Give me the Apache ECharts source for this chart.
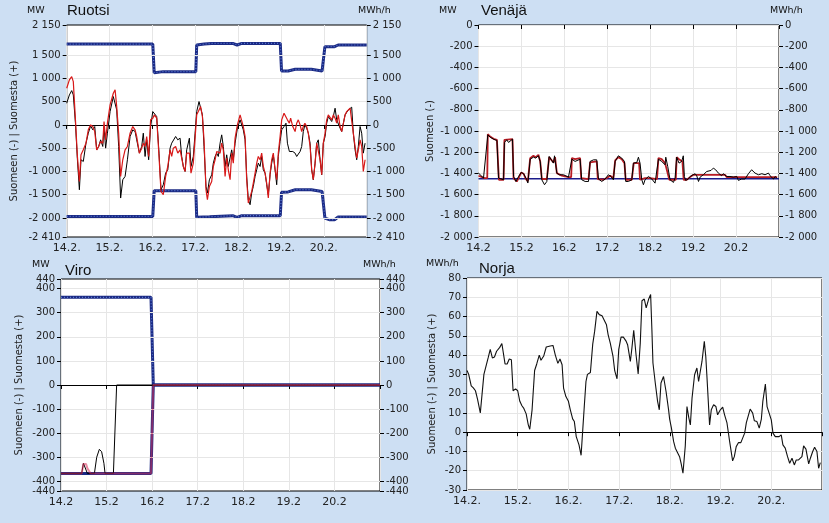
<!DOCTYPE html>
<html><head><meta charset="utf-8">
<script src="https://cdn.jsdelivr.net/npm/echarts@6/dist/echarts.min.js"></script>
<style>html,body{margin:0;padding:0;background:#cddff3}#c{width:829px;height:523px}</style>
</head><body><div id="c"></div>
<script>
// ---------- tick labels ----------
const dayLabelsDot = ['14.2.','15.2.','16.2.','17.2.','18.2.','19.2.','20.2.'];
const dayLabelsPlain = ['14.2','15.2','16.2','17.2','18.2','19.2','20.2'];
const ruotsiTicks = [2150,1500,1000,500,0,-500,-1000,-1500,-2000,-2410];
const ruotsiGrid = [1500,1000,500,-500,-1000,-1500,-2000];
const viroTicks = [400,300,200,100,0,-100,-200,-300,-400];
const viroEndTicks = [440,-440];
const viroGrid = [400,300,200,100,-100,-200,-300,-400];

// ---------- data: [hour since 14.2. 00:00, value] ----------
const ruotsiCapExport = [[0,1740],[48.2,1740],[49,1125],[54,1147],[72.3,1147],[72.8,1720],[77,1740],[81,1754],[93,1754],[95.4,1720],[98,1754],[119.6,1754],[120.3,1160],[124,1160],[128,1197],[137,1197],[143,1160],[144,1160],[144.6,1684],[150,1684],[152,1720],[168,1720]];
const ruotsiCapImport = [[0,-1968],[48.2,-1968],[49,-1414],[72.3,-1414],[72.8,-1987],[80,-1975],[81,-1952],[93,-1952],[95.4,-1987],[98,-1952],[119.6,-1952],[120.3,-1450],[124,-1440],[128,-1393],[137,-1393],[143,-1430],[144,-1430],[144.6,-2002],[147,-2038],[150,-2038],[152,-1980],[168,-1980]];
const ruotsiMeasured = [[0,467],[1.5,646],[2.8,739],[3.7,646],[4.9,38],[6,-749],[7.1,-1394],[8,-749],[9.3,-785],[10.8,-392],[12.1,-177],[13.4,-19],[14.6,-105],[15.7,-34],[16.8,-535],[17.9,-463],[19,-320],[20.2,-463],[20.9,-34],[21.8,-499],[22.8,-177],[24.3,288],[26.1,611],[27.1,575],[28,324],[29.1,-463],[30.2,-1572],[31.4,-1179],[32.7,-1107],[34,-749],[35.5,-248],[37,-105],[38.3,-141],[39.2,-320],[40.7,-606],[42,-463],[42.9,-177],[43.9,-678],[44.8,-320],[45.9,-749],[47,-34],[48.2,288],[49.1,253],[50.4,181],[51.7,-606],[52.8,-1394],[54.1,-1286],[55.4,-1036],[56.6,-964],[57.9,-499],[58.8,-392],[59.7,-356],[61,-248],[62.2,-320],[63.5,-284],[64.4,-678],[65.3,-893],[66.3,-1000],[67.2,-535],[68.7,-284],[69.6,-893],[70.9,-678],[71.9,-177],[72.8,288],[74.1,503],[75,539],[76,217],[76.9,-463],[78,-1322],[78.8,-1465],[79.9,-1179],[81.2,-1072],[82.1,-821],[83.1,-678],[84,-606],[84.9,-678],[85.9,-392],[86.8,-213],[87.7,-463],[88.7,-893],[89.6,-642],[90.5,-893],[91.5,-893],[92.4,-535],[93.3,-749],[94.3,-392],[95.6,-69],[97.1,110],[98.2,110],[98.9,-105],[99.9,-320],[100.8,-1107],[101.7,-1608],[102.7,-1715],[103.6,-1465],[104.5,-1322],[105.5,-1107],[106.4,-964],[107.3,-821],[108.3,-893],[109.2,-678],[110.1,-964],[111.1,-1036],[112,-1286],[112.9,-1501],[113.9,-1072],[114.8,-821],[115.7,-642],[116.7,-964],[117.6,-1286],[118.5,-678],[119.5,-356],[120.4,-105],[121.7,-34],[122.8,38],[123.6,-392],[124.7,-571],[125.4,-606],[126.6,-571],[127.9,-606],[128.8,-678],[129.7,-714],[130.7,-571],[131.6,-463],[132.5,-141],[133.4,2],[134.4,-69],[135.3,-177],[136.3,-392],[137.2,-964],[138.1,-1179],[139.1,-821],[140,-392],[140.9,-320],[141.9,-749],[142.8,-1072],[143.7,-392],[144.7,-248],[145.6,38],[146.5,181],[147.5,146],[148.4,74],[149.3,181],[150.3,360],[151.2,110],[152.1,146],[153.1,-69],[154,-141],[154.9,-141],[155.9,217],[156.8,253],[157.7,324],[158.7,360],[159.6,382],[160.5,-177],[161.5,-535],[162.4,-749],[163.3,-463],[164.3,-34],[165.2,-177],[166.1,-606],[167.1,-392]];
const ruotsiPlanned = [[0,790],[1.5,969],[2.8,1040],[3.7,932],[4.9,110],[6,-678],[7.1,-1215],[8,-642],[9.3,-535],[10.8,-392],[12.1,-105],[13.4,2],[14.6,-34],[15.7,-141],[16.8,-535],[17.9,-463],[19,-356],[20.2,-392],[20.9,74],[21.8,-320],[22.8,38],[24.3,432],[26.1,682],[27.1,754],[28,396],[29.1,-177],[30.2,-1107],[31.4,-749],[32.7,-535],[34,-463],[35.5,-177],[37,-34],[38.3,-105],[39.2,-248],[40.7,-606],[42,-499],[42.9,-392],[43.9,-463],[44.8,-248],[45.9,-678],[47,110],[48.2,146],[49.1,217],[50.4,146],[51.7,-678],[52.8,-1430],[54.1,-1501],[55.4,-1107],[56.6,-893],[57.9,-535],[58.8,-678],[59.7,-499],[61,-463],[62.2,-606],[63.5,-535],[64.4,-571],[65.3,-893],[66.3,-1000],[67.2,-606],[68.7,-606],[69.6,-1036],[70.9,-821],[71.9,-284],[72.8,217],[74.1,324],[75,396],[76,181],[76.9,-320],[78,-1394],[78.8,-1608],[79.9,-1322],[81.2,-1215],[82.1,-893],[83.1,-749],[84,-571],[84.9,-571],[85.9,-606],[86.8,-392],[87.7,-535],[88.7,-1107],[89.6,-714],[90.5,-964],[91.5,-1179],[92.4,-606],[93.3,-821],[94.3,-284],[95.6,2],[97.1,217],[98.2,217],[98.9,-34],[99.9,-248],[100.8,-1179],[101.7,-1680],[102.7,-1644],[103.6,-1430],[104.5,-1251],[105.5,-1036],[106.4,-821],[107.3,-678],[108.3,-749],[109.2,-606],[110.1,-893],[111.1,-1036],[112,-1251],[112.9,-1572],[113.9,-1036],[114.8,-749],[115.7,-606],[116.7,-964],[117.6,-1179],[118.5,-606],[119.5,-248],[120.4,110],[121.7,253],[122.8,288],[123.6,110],[124.7,38],[125.4,146],[126.6,-34],[127.9,-141],[128.8,38],[129.7,110],[130.7,2],[131.6,-141],[132.5,-34],[133.4,38],[134.4,-34],[135.3,-177],[136.3,-463],[137.2,-964],[138.1,-1179],[139.1,-821],[140,-392],[140.9,-356],[141.9,-749],[142.8,-1072],[143.7,-392],[144.7,-177],[145.6,110],[146.5,217],[147.5,196],[148.4,110],[149.3,217],[150.3,146],[151.2,38],[152.1,217],[153.1,-34],[154,-141],[154.9,-141],[155.9,217],[156.8,288],[157.7,324],[158.7,360],[159.6,396],[160.5,-177],[161.5,-463],[162.4,-714],[163.3,-535],[164.3,-320],[165.2,-463],[166.1,-1000],[167.1,-749]];

const venajaCap = [[0,-1450],[168,-1450]];
const venajaPlanned = [[0,-1422],[3.4,-1444],[4.9,-1444],[5.2,-1030],[6.5,-1052],[8.4,-1074],[10.3,-1083],[10.8,-1083],[11.4,-1460],[14,-1460],[14.5,-1083],[19,-1077],[19.6,-1444],[21.4,-1476],[22.4,-1444],[23.9,-1391],[25.2,-1403],[26.5,-1453],[27.6,-1476],[28.9,-1256],[30.7,-1234],[32,-1247],[33.5,-1225],[34.5,-1287],[35.4,-1453],[38.2,-1453],[39.5,-1247],[40.6,-1234],[41.9,-1297],[42.8,-1247],[43.8,-1397],[44.7,-1413],[46.6,-1422],[50.3,-1435],[51.8,-1435],[52.2,-1256],[54,-1266],[56.8,-1256],[57.4,-1444],[61.5,-1453],[62.4,-1297],[66.1,-1287],[66.7,-1453],[69.8,-1460],[71.7,-1444],[73.6,-1422],[75.4,-1444],[76.4,-1278],[78.2,-1247],[80.1,-1266],[81.6,-1303],[82.3,-1460],[82.9,-1476],[85.7,-1460],[86.4,-1460],[86.8,-1303],[89.8,-1303],[90.3,-1460],[93.1,-1444],[95.9,-1444],[96.9,-1460],[99.8,-1453],[100.6,-1256],[102.4,-1266],[104.3,-1303],[105.2,-1297],[106.7,-1460],[110.3,-1460],[110.8,-1247],[112.1,-1266],[114,-1287],[114.7,-1460],[116.4,-1460],[118.3,-1435],[120.1,-1413],[137.8,-1413],[138.8,-1435],[167,-1435]];
const venajaMeasured = [[0,-1397],[0.95,-1413],[2.8,-1444],[5.2,-1036],[6.5,-1058],[8.4,-1077],[10.3,-1090],[11.2,-1444],[12.1,-1460],[14,-1460],[14.5,-1108],[15.8,-1083],[16.8,-1108],[19,-1077],[19.6,-1429],[20.9,-1476],[22.4,-1429],[23.9,-1391],[25.2,-1403],[27,-1460],[27.6,-1491],[28.9,-1266],[30.7,-1247],[32,-1256],[33.5,-1234],[34.5,-1287],[35.4,-1460],[36.9,-1507],[38.2,-1476],[39.5,-1240],[40.6,-1256],[41.9,-1303],[42.5,-1234],[43.8,-1397],[45.1,-1413],[46.2,-1429],[47.5,-1413],[48.4,-1422],[50.3,-1435],[52.2,-1266],[54,-1287],[54.9,-1272],[56.8,-1266],[57.7,-1460],[59.6,-1476],[61.5,-1476],[62.4,-1287],[64.3,-1272],[66.1,-1272],[67.1,-1453],[68.9,-1476],[70.8,-1453],[72.6,-1413],[74.1,-1429],[75.4,-1460],[76.4,-1287],[78.2,-1234],[80.1,-1256],[81.6,-1287],[82.3,-1476],[82.9,-1492],[83.8,-1476],[85.7,-1460],[86.6,-1303],[88.5,-1297],[89.4,-1247],[90.3,-1303],[91.3,-1460],[92.2,-1507],[93.1,-1460],[94.1,-1444],[95,-1429],[95.9,-1444],[96.9,-1453],[97.8,-1435],[98.7,-1492],[99.6,-1476],[100.6,-1266],[101.5,-1256],[102.4,-1287],[104.3,-1319],[104.7,-1247],[105.8,-1335],[107.1,-1460],[108,-1476],[109,-1485],[109.9,-1444],[110.8,-1247],[112.1,-1303],[113.6,-1287],[114.5,-1234],[115.1,-1429],[115.8,-1466],[117.3,-1453],[118.3,-1429],[119.2,-1422],[121.1,-1403],[122,-1422],[123,-1476],[123.9,-1435],[124.8,-1444],[125.7,-1413],[126.7,-1397],[127.6,-1382],[128.5,-1397],[130,-1372],[131.3,-1350],[132.6,-1366],[134.1,-1397],[135,-1391],[135.9,-1422],[136.9,-1403],[137.8,-1413],[138.7,-1429],[139.7,-1422],[140.6,-1429],[141.6,-1413],[142.5,-1435],[144.4,-1429],[145.3,-1466],[146.2,-1476],[147.1,-1453],[149,-1453],[149.9,-1435],[150.9,-1403],[151.8,-1391],[152.7,-1366],[153.7,-1372],[154.6,-1397],[155.5,-1391],[156.5,-1413],[157.4,-1429],[158.4,-1403],[159.3,-1391],[160.2,-1413],[161.2,-1429],[162.1,-1397],[163,-1422],[163.9,-1435],[164.9,-1453],[165.8,-1429],[166.8,-1444]];

const viroCapExport = [[0,364],[47.4,364],[48.6,0],[168,0]];
const viroCapImport = [[0,-367],[47.4,-367],[48.6,0],[168,0]];
const viroPlanned = [[0,-367],[10.9,-367],[11.8,-328],[13.2,-328],[13.9,-346],[14.9,-350],[15.6,-367],[47.4,-367],[48.6,0],[168,0]];
const viroMeasured = [[0,-367],[10.9,-367],[11.8,-325],[12.8,-325],[13.9,-367],[17.6,-367],[18.8,-300],[20.2,-267],[21.4,-277],[22.6,-325],[23.2,-367],[27.6,-367],[29.3,0],[168,0]];

const norjaMeasured = [[0,32],[0.8,30],[2,24],[3,23],[4,21.5],[5,17],[6.3,10],[7,11],[8,30],[8.7,33],[10,38.5],[11,43],[12,38.5],[13,39],[14,42],[15.5,44],[16.5,46],[17.3,46],[18,35.4],[19,35.4],[20,38],[21,37.6],[21.8,21.5],[23,22.5],[24,21.5],[25,16],[26,13.7],[26.8,12.5],[28,9.5],[29,3.8],[29.7,1.5],[30.8,11.6],[32,32],[33,35.4],[34.2,40],[35,37.3],[36.3,39.5],[37.5,44.2],[38.3,45],[39.4,44.7],[40.7,45],[41.8,40],[43,35.7],[44,38],[45,35],[45.7,22.9],[46.8,18.5],[48,16],[48.9,11.6],[50,6.9],[50.8,5.5],[51.7,-2.3],[53,-6.6],[54,-12],[54.8,1.6],[55.5,13.3],[56.3,26.3],[57,30],[58.4,31],[59.5,45.7],[60.4,52.3],[61.5,62.7],[62.6,61],[63.9,60.4],[64.7,61.3],[66,55.7],[66.8,50.5],[67.8,46.2],[68.6,47],[69.1,39.3],[69.9,31.9],[71,27.7],[71.8,42.8],[72.9,49.3],[74,49.3],[75.2,47.4],[76,45.4],[77.3,36.7],[78,43.2],[78.9,52.9],[80,40.2],[81,30.2],[82,46.2],[82.8,68.2],[83.9,69.1],[84.8,64.5],[85.9,68.8],[86.9,71.4],[87.5,53.2],[88,35.9],[89.1,25.5],[90.2,16],[91,11.6],[91.8,25.5],[93,28.9],[94.2,21.1],[95.4,11.6],[95.9,6.8],[96.7,2.4],[97.8,-4.9],[98.6,-8.3],[99.4,-9.2],[100.6,-12.7],[101.4,-16.6],[102.2,-21.3],[103.3,-7.1],[104.1,13.3],[105,7.3],[105.7,3.8],[106.5,17.7],[107.7,29.8],[108.8,33.3],[109.6,26.3],[111.2,36.7],[112.3,47.1],[113,39.3],[113.5,29.8],[114.8,3.8],[115.6,11.6],[116.7,14.2],[117.8,13.3],[118.6,9],[119.9,11.6],[121,13],[121.9,9],[123,5],[124.3,-4.9],[125.7,-14.9],[126.5,-12.7],[127.4,-7.5],[128.5,-5.4],[129.6,-5.4],[130.4,-6.1],[131.4,-0.5],[132.2,5],[133,5.5],[134,12],[135.2,9.9],[136,5.9],[137.2,5.5],[138.3,2.1],[139.3,6.8],[140,16],[141.2,25],[142,13.3],[143.1,9.5],[144,6.4],[144.8,-0.5],[145.9,-2.3],[146.7,-1.4],[147.7,-2.3],[148.7,-1.4],[149.5,-6.6],[150.6,-8.3],[151.7,-12.7],[152.7,-16.1],[153.8,-13.5],[154.9,-17],[155.8,-14.4],[156.9,-14.4],[157.7,-13.5],[158.5,-12.7],[159.3,-7.1],[160.4,-8.8],[161.7,-16.4],[162.5,-13.5],[163.6,-10],[164.5,-7.8],[165.6,-10],[166.4,-18.7],[167.2,-15.8]];

// ---------- styling ----------
const FONT = 'DejaVu Sans';
const LBL = '#222';
const NAVY = '#1b2a84';
const DOTS = '#5878d0';
const fmt = v => { const a = Math.abs(Math.round(v)).toString().replace(/\B(?=(\d{3})+(?!\d))/g, ' '); return (v < 0 ? '-' : '') + a; };

const grids = [
  {left:66.7, top:25, width:300, height:212},
  {left:478.5, top:25, width:300.5, height:212},
  {left:61, top:279, width:319, height:212},
  {left:467, top:278, width:355, height:212}
].map(g => Object.assign({show:true, backgroundColor:'#fff', borderColor:'#000', borderWidth:1, containLabel:false}, g));

function xAx(gi, labels) {
  return {type:'value', gridIndex:gi, min:0, max:168, interval:24,
    axisLine:{show:false}, axisTick:{show:true, length:4, lineStyle:{color:'#000'}},
    axisLabel:{fontFamily:FONT, fontSize:11, color:LBL, margin:6, formatter: v => labels[Math.round(v/24)] || ''},
    splitLine:{show:true, lineStyle:{color:'#e6e6e6', width:1}}};
}
function yAx(gi, pos, min, max, opts) {
  const o = {type:'value', gridIndex:gi, position:pos, min, max, offset:0,
    axisLine:{show:false}, axisTick:{show:true, length:4, lineStyle:{color:'#000'}},
    axisLabel:{fontFamily:FONT, fontSize:10, color:LBL, margin:6, formatter: fmt,
      showMinLabel:true, showMaxLabel:true, hideOverlap:false},
    splitLine:{show:false}};
  if (opts.ticks) { o.axisTick.customValues = opts.ticks; o.axisLabel.customValues = opts.ticks; }
  if (opts.interval) { o.interval = opts.interval; }
  if (opts.split) { o.splitLine = {show:true, lineStyle:{color:'#e6e6e6', width:1}}; }
  if (opts.name) { o.name = opts.name; o.nameLocation = 'middle'; o.nameGap = opts.gap; o.nameTextStyle = {fontFamily:FONT, fontSize:10, color:LBL}; }
  return o;
}
// y axis indices per grid (left, used by the series)
const yLeft = [0, 2, 4, 8];
const yAxes = [
  yAx(0,'left',-2410,2150,{ticks:ruotsiTicks, name:'Suomeen (-) | Suomesta (+)', gap:47}),
  yAx(0,'right',-2410,2150,{ticks:ruotsiTicks}),
  yAx(1,'left',-2000,0,{interval:200, split:true, name:'Suomeen (-)', gap:43}),
  yAx(1,'right',-2000,0,{interval:200}),
  yAx(2,'left',-440,440,{ticks:viroTicks, name:'Suomeen (-) | Suomesta (+)', gap:37}),
  yAx(2,'right',-440,440,{ticks:viroTicks}),
  yAx(2,'left',-440,440,{ticks:viroEndTicks}),
  yAx(2,'right',-440,440,{ticks:viroEndTicks}),
  yAx(3,'left',-30,80,{interval:10, split:true, name:'Suomeen (-) | Suomesta (+)', gap:30})
];
const xAxes = [xAx(0, dayLabelsDot), xAx(1, dayLabelsPlain), xAx(2, dayLabelsPlain), xAx(3, dayLabelsDot)];

function line(data, gi, color, width, z, extra) {
  return Object.assign({type:'line', data, xAxisIndex:gi, yAxisIndex:yLeft[gi], showSymbol:false, symbol:'none',
    lineStyle:{color, width}, itemStyle:{color}, z, silent:true, animation:false}, extra || {});
}
function refLines(gi, gridVals, zero) {
  const d = gridVals.map(v => ({yAxis:v}));
  if (zero) d.push({yAxis:0, lineStyle:{color:'#000', width:1}});
  return {type:'line', data:[], xAxisIndex:gi, yAxisIndex:yLeft[gi], z:1, silent:true, animation:false,
    markLine:{silent:true, symbol:['none','none'], label:{show:false}, animation:false,
      lineStyle:{color:'#e6e6e6', width:1, type:'solid'}, data:d}};
}
const dotted = (data, gi, z) => line(data, gi, DOTS, 1.2, z, {lineStyle:{color:DOTS, width:1.2, type:[1,2]}});

const series = [
  refLines(0, ruotsiGrid, true),
  line(ruotsiCapExport, 0, NAVY, 3, 3), dotted(ruotsiCapExport, 0, 4),
  line(ruotsiCapImport, 0, NAVY, 3, 3), dotted(ruotsiCapImport, 0, 4),
  line(ruotsiMeasured, 0, '#000', 1, 5),
  line(ruotsiPlanned, 0, '#d81818', 1.2, 6),

  line(venajaCap, 1, '#1a1a8a', 1.5, 3),
  line(venajaPlanned, 1, '#b81c24', 1.8, 4),
  line(venajaMeasured, 1, '#000', 1, 5),

  refLines(2, viroGrid, true),
  line(viroCapExport, 2, NAVY, 3, 3), dotted(viroCapExport, 2, 4),
  line(viroCapImport, 2, NAVY, 3, 3),
  line(viroMeasured, 2, '#000', 1, 5),
  line(viroPlanned, 2, '#d8305a', 2, 6, {lineStyle:{color:'#d8305a', width:2, opacity:0.55}}),

  refLines(3, [], true),
  line(norjaMeasured, 3, '#111', 1.1, 5)
];

const tStyle = {fontFamily:'Liberation Sans', fontSize:15, fontWeight:'normal', color:'#111'};
const uStyle = {fontFamily:FONT, fontSize:9.5, fontWeight:'normal', color:'#111'};
const titles = [
  {text:'Ruotsi', left:67, top:3, padding:0, textStyle:tStyle},
  {text:'Venäjä', left:481, top:3, padding:0, textStyle:tStyle},
  {text:'Viro', left:65, top:263, padding:0, textStyle:tStyle},
  {text:'Norja', left:479, top:261, padding:0, textStyle:tStyle},
  {text:'MW', left:27, top:6, padding:0, textStyle:uStyle},
  {text:'MWh/h', left:358, top:6, padding:0, textStyle:uStyle},
  {text:'MW', left:439, top:6, padding:0, textStyle:uStyle},
  {text:'MWh/h', left:770, top:6, padding:0, textStyle:uStyle},
  {text:'MW', left:32, top:260, padding:0, textStyle:uStyle},
  {text:'MWh/h', left:363, top:260, padding:0, textStyle:uStyle},
  {text:'MWh/h', left:426, top:259, padding:0, textStyle:uStyle}
];

const chart = echarts.init(document.getElementById('c'), null, {renderer:'canvas'});
chart.setOption({
  backgroundColor:'#cddff3',
  animation:false,
  title: titles,
  grid: grids,
  xAxis: xAxes,
  yAxis: yAxes,
  series: series
});
</script></body></html>
